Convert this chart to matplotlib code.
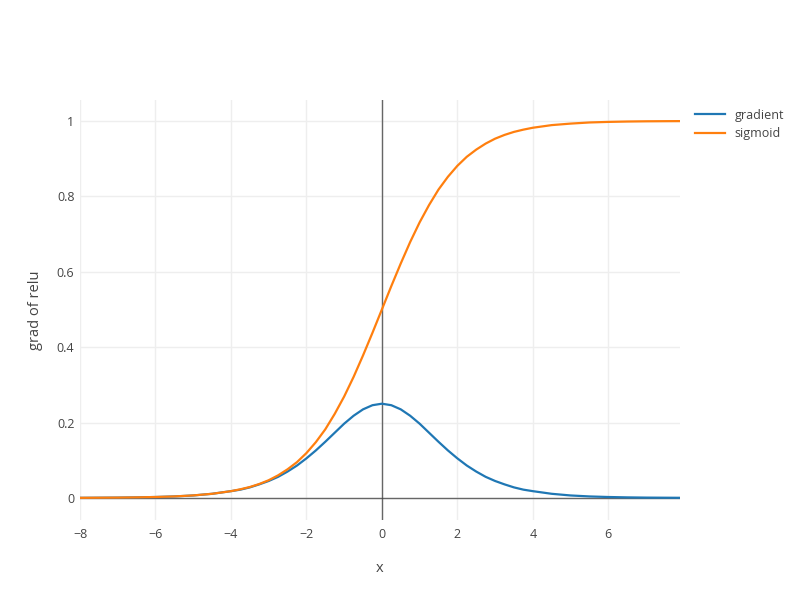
import matplotlib
matplotlib.use("Agg")
import matplotlib.pyplot as plt

plt.rcParams['font.family'] = ['Open Sans', 'DejaVu Sans']

x = [-8, -7.5, -7, -6.5, -6, -5.5, -5, -4.5,
     -4, -3.75, -3.5, -3.25, -3, -2.75, -2.5, -2.25, -2, -1.75, -1.5, -1.25, -1, -0.75, -0.5, -0.25,
     0, 0.25, 0.5, 0.75, 1, 1.25, 1.5, 1.75, 2, 2.25, 2.5, 2.75, 3, 3.25, 3.5, 3.75, 4,
     4.5, 5, 5.5, 6, 6.5, 7, 7.5, 7.9]
gradient = [0.0003, 0.0006, 0.0009, 0.0015, 0.0025, 0.004, 0.0066, 0.011,
            0.018, 0.022, 0.028, 0.036, 0.045, 0.056, 0.070, 0.086, 0.105, 0.126, 0.149, 0.173,
            0.197, 0.218, 0.235, 0.246,
            0.25, 0.246, 0.235, 0.218, 0.197, 0.173, 0.149, 0.126, 0.105, 0.086, 0.070, 0.056,
            0.045, 0.036, 0.028, 0.022, 0.018,
            0.011, 0.0066, 0.004, 0.0025, 0.0015, 0.0009, 0.0006, 0.0004]
sigmoid = [0.0003, 0.0006, 0.0009, 0.0015, 0.0025, 0.004, 0.0067, 0.011,
           0.018, 0.023, 0.029, 0.037, 0.047, 0.060, 0.076, 0.095, 0.119, 0.148, 0.182, 0.223,
           0.269, 0.321, 0.378, 0.438,
           0.5, 0.562, 0.622, 0.679, 0.731, 0.777, 0.818, 0.852, 0.881, 0.905, 0.924, 0.940,
           0.953, 0.963, 0.971, 0.977, 0.982,
           0.989, 0.993, 0.996, 0.9975, 0.9985, 0.9991, 0.9994, 0.9996]
xticks = [-8, -6, -4, -2, 0, 2, 4, 6]
yticks = [0, 0.2, 0.4, 0.6, 0.8, 1]
ytick_labels = ['0', '0.2', '0.4', '0.6', '0.8', '1']

fig = plt.figure(figsize=(8, 6), dpi=100)
ax = fig.add_axes([0.1, 80/600, 0.75, 0.7])

ax.plot(x, gradient, color='#1f77b4', lw=1.6, label='gradient', zorder=3)
ax.plot(x, sigmoid, color='#ff7f0e', lw=1.6, label='sigmoid', zorder=3)

ax.set_xlim(-8, 7.9)
ax.set_ylim(-0.0585, 1.0556)
ax.set_xticks(xticks)
ax.set_yticks(yticks)
ax.set_yticklabels(ytick_labels)
ax.grid(True, color='#eeeeee', lw=1)
ax.set_axisbelow(True)
ax.axvline(0, color='#444444', lw=1, alpha=0.8, zorder=2)
ax.axhline(0, color='#444444', lw=1, alpha=0.8, zorder=2)
for s in ax.spines.values():
    s.set_visible(False)
ax.tick_params(length=0, labelsize=9, colors='#444444', pad=6)
ax.tick_params(axis='y', pad=4)
ax.set_xlabel('x', fontsize=10.5, color='#444444', labelpad=14)
ax.set_ylabel('grad of relu', fontsize=10.5, color='#444444', labelpad=10)

leg = ax.legend(loc='upper left', bbox_to_anchor=(1.01, 1.0), frameon=False,
                fontsize=9, handlelength=2.4, labelcolor='#444444',
                borderaxespad=0.3, labelspacing=0.45)

fig.savefig('out.png', dpi=100)
